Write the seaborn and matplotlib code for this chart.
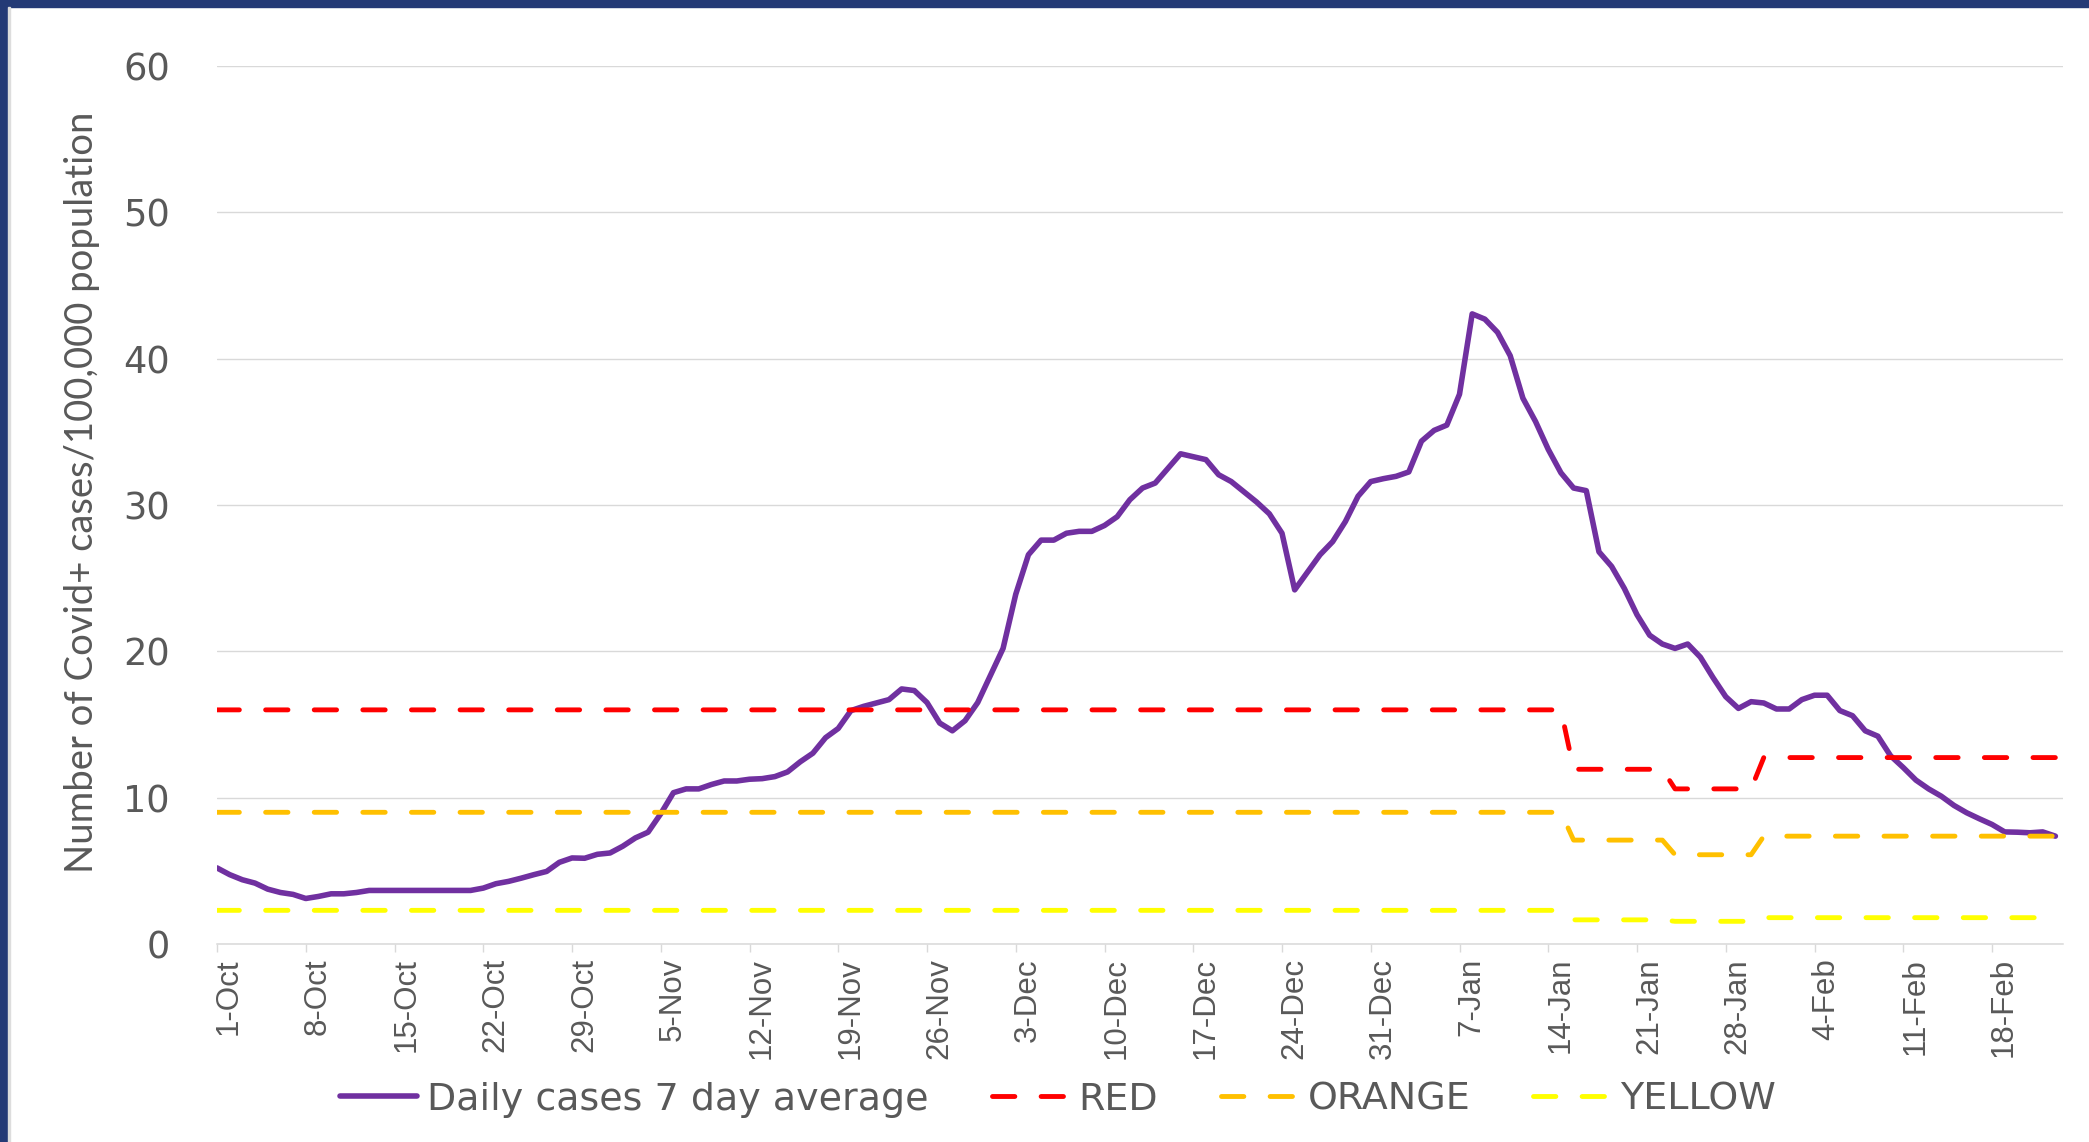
import matplotlib
matplotlib.use("Agg")
import matplotlib.pyplot as plt
import matplotlib.transforms as mtransforms
from matplotlib.patches import Rectangle
import seaborn as sns
import pandas as pd

# daily 7-day average, 1-Oct .. 23-Feb
start_date = "2020-10-01"
cases_7day = [
    5.2, 4.74, 4.39, 4.16, 3.75, 3.52, 3.39, 3.11, 3.25, 3.43,
    3.43, 3.52, 3.66, 3.66, 3.66, 3.66, 3.66, 3.66, 3.66, 3.66,
    3.66, 3.82, 4.12, 4.28, 4.5, 4.74, 4.96, 5.58, 5.88, 5.86,
    6.13, 6.22, 6.68, 7.25, 7.64, 8.9, 10.34, 10.6, 10.6, 10.9,
    11.14, 11.14, 11.26, 11.3, 11.44, 11.76, 12.45, 13.04, 14.1, 14.73,
    15.95, 16.24, 16.47, 16.7, 17.43, 17.32, 16.5, 15.1, 14.57, 15.26,
    16.5, 18.35, 20.2, 23.9, 26.6, 27.6, 27.6, 28.07, 28.2, 28.2,
    28.6, 29.2, 30.36, 31.16, 31.5, 32.5, 33.5, 33.3, 33.1, 32.07,
    31.6, 30.9, 30.2, 29.4, 28.07, 24.2, 25.4, 26.6, 27.5, 28.87,
    30.6, 31.6, 31.8, 31.96, 32.26, 34.36, 35.1, 35.46, 37.57, 43.06,
    42.7, 41.8, 40.2, 37.3, 35.7, 33.8, 32.2, 31.16, 30.98, 26.8,
    25.8, 24.3, 22.5, 21.1, 20.5, 20.2, 20.5, 19.6, 18.2, 16.9,
    16.1, 16.56, 16.47, 16.06, 16.06, 16.7, 17.0, 17.0, 15.95, 15.6,
    14.57, 14.2, 12.86, 12.06, 11.2, 10.6, 10.1, 9.47, 8.97, 8.56,
    8.17, 7.66, 7.64, 7.6, 7.66, 7.37,
]

# threshold levels at their change points (days after 1-Oct)
level_days = [0, 106, 107, 114, 115, 121, 122, 145]
red_level = [16.0, 16.0, 11.94, 11.94, 10.6, 10.6, 12.74, 12.74]
orange_level = [9.0, 9.0, 7.1, 7.1, 6.1, 6.1, 7.37, 7.37]
yellow_level = [2.3, 2.3, 1.65, 1.65, 1.55, 1.55, 1.8, 1.8]

tick_labels = ["1-Oct", "8-Oct", "15-Oct", "22-Oct", "29-Oct", "5-Nov", "12-Nov",
               "19-Nov", "26-Nov", "3-Dec", "10-Dec", "17-Dec", "24-Dec", "31-Dec",
               "7-Jan", "14-Jan", "21-Jan", "28-Jan", "4-Feb", "11-Feb", "18-Feb"]

GREY_TXT = "#595959"
GRID = "#D9D9D9"

dates = pd.date_range(start_date, periods=len(cases_7day), freq="D")
df_cases = pd.DataFrame({"date": dates, "cases": cases_7day})
level_dates = pd.Timestamp(start_date) + pd.to_timedelta(level_days, unit="D")
df_levels = pd.DataFrame({"date": level_dates, "RED": red_level,
                          "ORANGE": orange_level, "YELLOW": yellow_level})

sns.set_theme(style="white")
plt.rcParams["font.family"] = ["DejaVu Sans"]

W, H = 2089, 1142
fig = plt.figure(figsize=(W / 100, H / 100), dpi=100)
ax = fig.add_axes([217 / W, 1 - 944 / H, (2063 - 217) / W, (944 - 66) / H])

sns.lineplot(data=df_cases, x="date", y="cases", color="#7030A0", linewidth=4.0,
             ax=ax, label="Daily cases 7 day average", zorder=2)
for name, col in [("RED", "#FF0000"), ("ORANGE", "#FFC000"), ("YELLOW", "#FFFF00")]:
    sns.lineplot(data=df_levels, x="date", y=name, color=col, linewidth=3.5,
                 linestyle=(0, (4.6, 5.4)), dash_capstyle="round",
                 ax=ax, label=name, zorder=3)

ax.set_ylim(0, 60)
ax.set_yticks(range(0, 61, 10))
ax.set_xlim(dates[0], dates[0] + pd.Timedelta(days=145.6))
ax.set_xticks(dates[::7])
ax.set_xticklabels(tick_labels)

ax.yaxis.grid(True, color=GRID, linewidth=1.0)
ax.xaxis.grid(False)
ax.set_axisbelow(True)
for s in ["top", "right", "left"]:
    ax.spines[s].set_visible(False)
ax.spines["bottom"].set_color(GRID)
ax.spines["bottom"].set_linewidth(1.1)

ax.tick_params(axis="x", bottom=True, length=6, width=1.0, color=GRID, pad=4,
               labelsize=22.5, labelcolor=GREY_TXT, labelrotation=90)
ax.tick_params(axis="y", length=0, pad=34, labelsize=26.5, labelcolor=GREY_TXT)

shift = mtransforms.ScaledTranslation(12 / 100, 0, fig.dpi_scale_trans)
for lbl in ax.get_xticklabels():
    lbl.set_fontfamily("Liberation Sans")
    lbl.set_transform(lbl.get_transform() + shift)

ax.set_xlabel("")
ax.set_ylabel("Number of Covid+ cases/100,000 population", fontsize=27.5,
              color=GREY_TXT, family="Lato")
ax.yaxis.set_label_coords(-0.0731, 0.515)
ax.yaxis.label.set_verticalalignment("center")

leg = ax.legend(loc="center", bbox_to_anchor=(0.5065, 0.037),
                bbox_transform=fig.transFigure, ncol=4, frameon=False,
                fontsize=27.4, handlelength=2.0, handletextpad=0.28,
                columnspacing=1.65)
for t in leg.get_texts():
    t.set_color(GREY_TXT)

# slide frame
fig.patches.append(Rectangle((0, 1 - 7 / H), 1, 7 / H, transform=fig.transFigure,
                             color="#243A76", zorder=10))
fig.patches.append(Rectangle((0, 0), 7 / W, 1, transform=fig.transFigure,
                             color="#243A76", zorder=10))
fig.patches.append(Rectangle((8 / W, 0), 2 / W, 1 - 7 / H, transform=fig.transFigure,
                             color="#DDDDDD", zorder=10))

fig.savefig("out.png", dpi=100)
